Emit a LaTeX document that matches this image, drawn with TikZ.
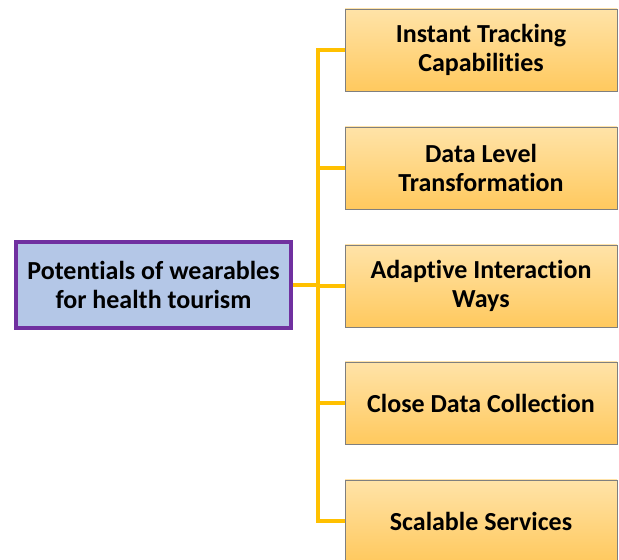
\documentclass[tikz,border=0pt]{standalone}
\usepackage{fontspec}
\setmainfont{Carlito}[Ligatures=NoCommon]
\usepackage{tikz}
\usetikzlibrary{positioning}
\definecolor{rootline}{HTML}{7030A0}
\definecolor{rootfill}{HTML}{B4C7E7}
\definecolor{linkcol}{HTML}{FFC000}
\definecolor{boxtop}{HTML}{FFE3A8}
\definecolor{boxbot}{HTML}{FFC95E}
\definecolor{boxline}{HTML}{7F7F7F}
\tikzset{
  rootbox/.style={draw=rootline, line width=4pt, fill=rootfill, minimum width=275pt, minimum height=86pt, align=center, font=\fontsize{26}{29}\selectfont\bfseries},
  itembox/.style={draw=boxline, line width=0.8pt, top color=boxtop, bottom color=boxbot, minimum width=272pt, minimum height=82pt, align=center, font=\fontsize{26}{29}\selectfont\bfseries},
  link/.style={draw=linkcol, line width=3.2pt}
}

\begin{document}
\begin{tikzpicture}[x=1pt,y=1pt]
			\useasboundingbox (0,0) rectangle (619,560);
			\begin{scope}
			\clip (0,0) rectangle (619,560);
			\node[rootbox] (0) at (153.5,275) {Potentials of wearables\\for health tourism};
			\node[itembox] (1) at (481,510) {Instant Tracking\\Capabilities};
			\node[itembox] (2) at (481,392) {Data Level\\Transformation};
			\node[itembox] (3) at (481,274) {Adaptive Interaction\\Ways};
			\node[itembox] (4) at (481,157) {Close Data Collection};
			\node[itembox] (5) at (481,39) {Scalable Services};
			\coordinate (t) at (318,275);
			\draw [link] (0)--(t);
			\draw [link] (t) |- (1);
			\draw [link] (t) |- (2);
			\draw [link] (t) |- (3);
			\draw [link] (t) |- (4);
			\draw [link] (t) |- (5);
			\end{scope}
			\end{tikzpicture}
\end{document}
